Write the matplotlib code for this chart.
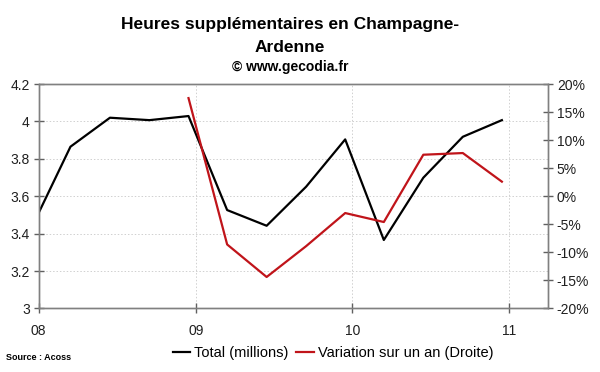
import pandas as pd
import matplotlib
matplotlib.use("Agg")
from matplotlib import pyplot as plt
import matplotlib.dates as mdates
from matplotlib.ticker import FuncFormatter

plt.rcParams['font.family'] = ['Liberation Sans', 'DejaVu Sans']

# quarterly data (mid of last month of each quarter)
dates = pd.to_datetime(["2007-12-15", "2008-03-15", "2008-06-15", "2008-09-15",
                        "2008-12-15", "2009-03-15", "2009-06-15", "2009-09-15",
                        "2009-12-15", "2010-03-15", "2010-06-15", "2010-09-15",
                        "2010-12-15"])
total = [3.43, 3.865, 4.02, 4.007, 4.029, 3.526, 3.442, 3.651,
         3.904, 3.366, 3.699, 3.918, 4.007]
var_dates = dates[4:]
variation = [17.5, -8.6, -14.4, -8.9, -3.0, -4.6, 7.4, 7.7, 2.6]

left_ticks = [3, 3.2, 3.4, 3.6, 3.8, 4, 4.2]
right_ticks = [-20, -15, -10, -5, 0, 5, 10, 15, 20]

fig = plt.figure(figsize=(6, 3.72), dpi=100)
ax = fig.add_axes([0.0645, 0.171, 0.8485, 0.603])
ax2 = ax.twinx()

l1, = ax.plot(dates, total, color='black', lw=1.6, label='Total (millions)')
l2, = ax2.plot(var_dates, variation, color='#c0141a', lw=1.6,
               label='Variation sur un an (Droite)')

ax.set_xlim(pd.Timestamp("2008-01-01"), pd.Timestamp("2011-04-01"))
ax.set_ylim(3, 4.2)
ax.set_yticks(left_ticks)
ax.yaxis.set_major_formatter(FuncFormatter(lambda v, p: f'{v:g}'))
ax2.set_ylim(-20, 20)
ax2.set_yticks(right_ticks)
ax2.yaxis.set_major_formatter(FuncFormatter(lambda v, p: f'{v:.0f}%'))

ax.xaxis.set_major_locator(mdates.YearLocator())
ax.xaxis.set_major_formatter(mdates.DateFormatter('%y'))

ax.grid(True, color='#d0d0d0', linestyle=(0, (1.5, 2)), lw=0.7)
for a in (ax, ax2):
    for s in a.spines.values():
        s.set_color('#808080')
        s.set_linewidth(1.0)
    a.tick_params(direction='inout', length=7, width=1, color='#606060',
                  labelsize=10, colors='#202020')
ax.tick_params(axis='x', pad=8)
ax.tick_params(axis='y', pad=3)
ax2.tick_params(axis='y', pad=3)

fig.text(0.483, 0.903, 'Heures supplémentaires en Champagne-\nArdenne',
         ha='center', va='center', fontsize=12.5, fontweight='bold',
         linespacing=1.6)
fig.text(0.483, 0.82, '© www.gecodia.fr', ha='center', va='center',
         fontsize=10, fontweight='bold')
fig.text(0.01, 0.04, 'Source : Acoss', ha='left', va='center',
         fontsize=6.5, fontweight='bold')

fig.legend(handles=[l1, l2], loc='center', bbox_to_anchor=(0.555, 0.05),
           ncol=2, frameon=False, fontsize=10.5, handlelength=1.2,
           handletextpad=0.3, columnspacing=0.5)

plt.savefig('out.png', dpi=100)
